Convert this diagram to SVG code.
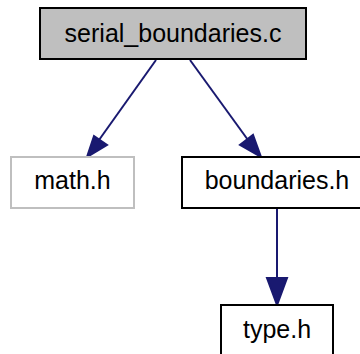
<svg xmlns="http://www.w3.org/2000/svg" width="360" height="354" viewBox="0 0 360 354">
<style>
.n rect{stroke-width:2}
.n text{font-family:"Liberation Sans",Arial,Helvetica,sans-serif;font-size:25px;text-anchor:middle;fill:#000}
.e path{fill:none;stroke:#191970;stroke-width:2}
.e polygon{fill:#191970;stroke:#191970;stroke-width:2}
</style>
<rect width="360" height="354" fill="#fff"/>
<g class="e" id="edges">
<path d="M156,60 L99,140"/>
<polygon points="87,157 94,136 107,145"/>
<path d="M190,60 L248,140"/>
<polygon points="261,157 240,145 253,135"/>
<path d="M277,208 L277,280"/>
<polygon points="277,305 267,278 287,278"/>
</g>
<g class="n" id="node1">
<rect x="40" y="8" width="266" height="51" fill="#bfbfbf" stroke="#000"/>
<text x="173" y="42">serial_boundaries.c</text>
</g>
<g class="n" id="node2">
<rect x="11" y="157" width="123" height="51" fill="#fff" stroke="#bfbfbf"/>
<text x="72.5" y="189">math.h</text>
</g>
<g class="n" id="node3">
<rect x="182" y="157" width="190" height="51" fill="#fff" stroke="#000"/>
<text x="277" y="189">boundaries.h</text>
</g>
<g class="n" id="node4">
<rect x="221" y="305" width="112" height="60" fill="#fff" stroke="#000"/>
<text x="277" y="338">type.h</text>
</g>
</svg>
